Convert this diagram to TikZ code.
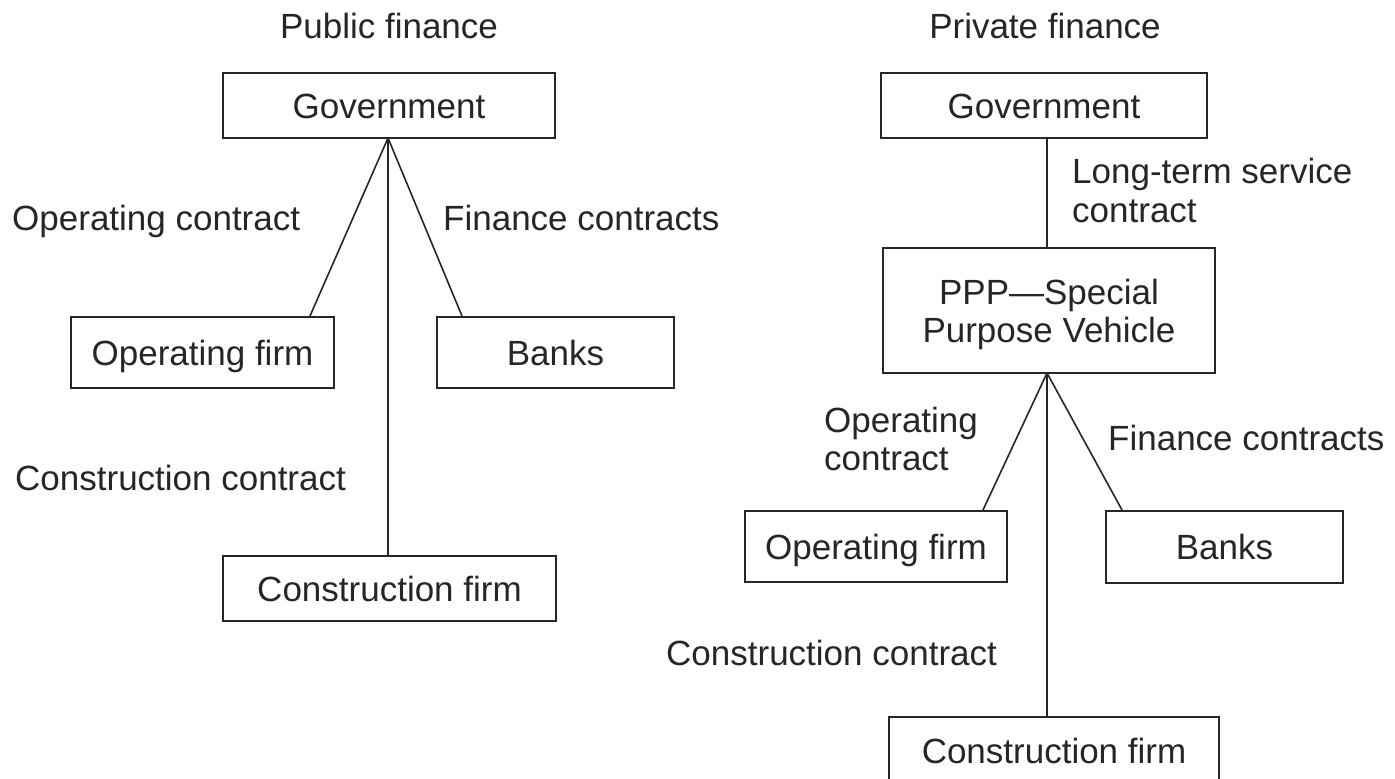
\documentclass[tikz,border=0pt]{standalone}
\usepackage{fontspec}
\setmainfont{Liberation Sans}
\begin{document}
\begin{tikzpicture}[x=1pt,y=-1pt,
  every node/.style={font=\fontsize{35}{38}\selectfont, text=black!85},
  box/.style={draw=black!85, line width=2pt, inner sep=0pt, text height=25pt, text depth=0pt, anchor=center},
  lbl/.style={anchor=base west, inner sep=0pt},
  ttl/.style={anchor=base, inner sep=0pt},
  conn/.style={draw=black!85, line width=1.6pt}]
\useasboundingbox (0,0) rectangle (1395,779);
\clip (0,0) rectangle (1395,779);
% ---------- Public finance ----------
\node[ttl] (t1) at (389,38) {Public finance};
\node[box, minimum width=332pt, minimum height=65pt] (gov1) at (389,105.5) {Government};
\node[box, minimum width=263pt, minimum height=71pt] (opf1) at (202.5,352.5) {Operating firm};
\node[box, minimum width=237pt, minimum height=71pt] (bank1) at (555.5,352.5) {Banks};
\node[box, minimum width=333pt, minimum height=65pt] (con1) at (389.5,588.5) {Construction firm};
\node[lbl] (l1) at (12,230) {Operating contract};
\node[lbl] (l2) at (443,230) {Finance contracts};
\node[lbl] (l3) at (15,490) {Construction contract};
\coordinate (j1) at (388,138);
\draw[conn] (j1) -- ([xshift=-25pt]opf1.north east);
\draw[conn] (j1) -- ([xshift=26pt]bank1.north west);
\draw[conn] (j1) -- (j1 |- con1.north);
% ---------- Private finance ----------
\node[ttl] (t2) at (1045,38) {Private finance};
\node[box, minimum width=326pt, minimum height=65pt] (gov2) at (1044,105.5) {Government};
\node[box, minimum width=332pt, minimum height=125pt, align=center, text height=63pt, text depth=0pt] (ppp) at (1049,310.5) {PPP—Special\\Purpose Vehicle};
\node[box, minimum width=262pt, minimum height=71pt] (opf2) at (876,546.5) {Operating firm};
\node[box, minimum width=237pt, minimum height=72pt] (bank2) at (1224.5,547) {Banks};
\node[box, minimum width=330pt, minimum height=67pt] (con2) at (1054,750.5) {Construction firm};
\node[lbl] (l4) at (1072,183) {Long-term service};
\node[lbl] (l5) at (1072,222) {contract};
\node[lbl] (l6) at (824,432) {Operating};
\node[lbl] (l7) at (824,470) {contract};
\node[lbl] (l8) at (1108,450) {Finance contracts};
\node[lbl] (l9) at (666,665) {Construction contract};
\coordinate (j2) at (1047,373);
\draw[conn] (j2 |- gov2.south) -- (j2 |- ppp.north);
\draw[conn] (j2) -- ([xshift=-25pt]opf2.north east);
\draw[conn] (j2) -- ([xshift=17pt]bank2.north west);
\draw[conn] (j2) -- (j2 |- con2.north);
\end{tikzpicture}
\end{document}
